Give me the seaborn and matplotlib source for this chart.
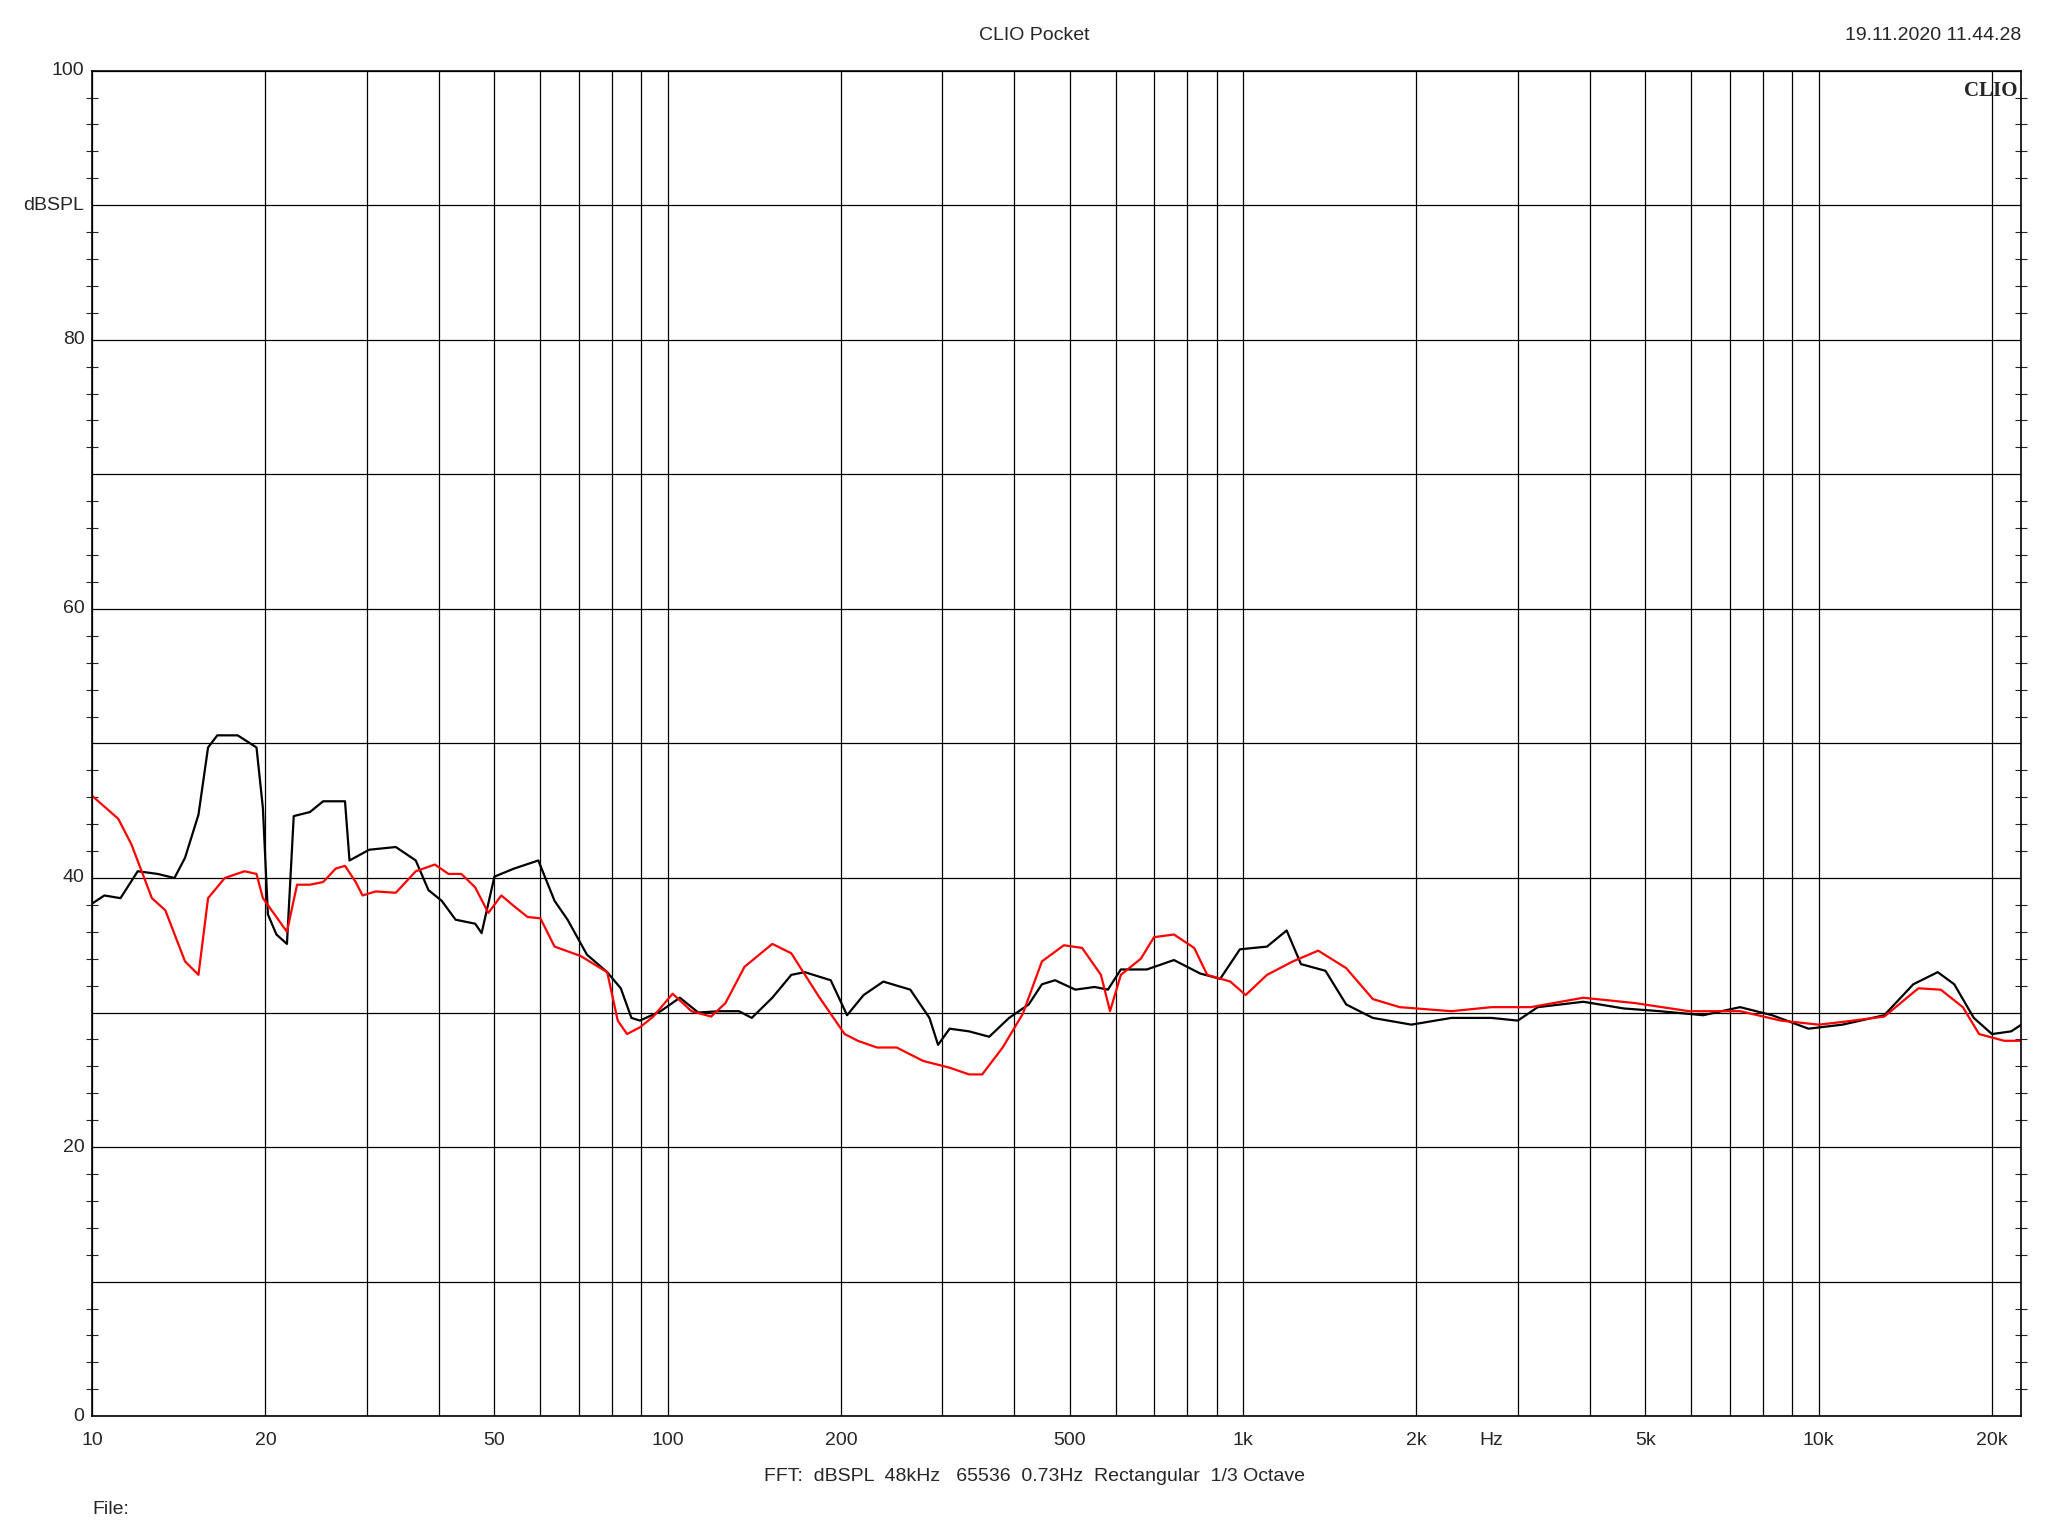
import numpy as np
import pandas as pd
import matplotlib
matplotlib.use("Agg")
import matplotlib.pyplot as plt
import seaborn as sns
from matplotlib.ticker import FixedLocator, MultipleLocator, NullFormatter

sns.set_style("white")
plt.rcParams['font.family'] = ['Liberation Sans', 'DejaVu Sans']

black_hz = [10, 10.5, 11.2, 12.0, 13.0, 13.9, 14.5, 15.3, 15.9, 16.5, 17.9, 19.3, 19.8, 20.2, 20.9, 21.8,
            22.4, 23.9, 25.2, 27.5, 28.0, 30.3, 33.7, 36.5, 38.4, 40.5, 42.8, 46.3, 47.5, 50.0, 54.1, 59.6,
            63.6, 67.0, 72.4, 78.5, 82.9, 86.5, 89.5, 97.2, 105, 113, 123, 133, 140, 152, 164, 173, 192,
            205, 219, 237, 264, 285, 295, 309, 334, 362, 392, 424, 447, 471, 511, 552, 582, 613, 680, 758,
            842, 912, 987, 1100, 1190, 1260, 1390, 1510, 1680, 1960, 2300, 2700, 3000, 3250, 3900, 4590,
            5300, 6300, 7300, 8300, 9600, 11000, 13000, 14600, 16100, 17200, 18600, 20000, 21600, 22500]
black_db = [38.1, 38.7, 38.5, 40.5, 40.3, 40.0, 41.5, 44.7, 49.7, 50.6, 50.6, 49.7, 45.2, 37.3, 35.8, 35.1,
            44.6, 44.9, 45.7, 45.7, 41.3, 42.1, 42.3, 41.3, 39.1, 38.3, 36.9, 36.6, 35.9, 40.1, 40.7, 41.3,
            38.3, 36.9, 34.3, 33.0, 31.8, 29.6, 29.4, 30.1, 31.1, 30.0, 30.1, 30.1, 29.6, 31.1, 32.8, 33.0, 32.4,
            29.8, 31.3, 32.3, 31.7, 29.6, 27.6, 28.8, 28.6, 28.2, 29.6, 30.6, 32.1, 32.4, 31.7, 31.9, 31.7, 33.2, 33.2, 33.9,
            32.9, 32.5, 34.7, 34.9, 36.1, 33.6, 33.1, 30.6, 29.6, 29.1, 29.6, 29.6, 29.4, 30.4, 30.8, 30.3,
            30.1, 29.8, 30.4, 29.8, 28.8, 29.1, 29.8, 32.1, 33.0, 32.1, 29.6, 28.4, 28.6, 29.1]

red_hz = [10, 11.1, 11.7, 12.7, 13.4, 14.5, 15.3, 15.9, 17.0, 18.4, 19.3, 19.8, 20.9, 21.8, 22.7, 23.9,
          25.2, 26.5, 27.5, 28.7, 29.5, 31.1, 33.7, 36.5, 39.4, 41.6, 43.8, 46.3, 48.8, 51.4, 54.1, 57.1,
          60.1, 63.6, 70.6, 78.5, 81.9, 85.0, 89.5, 94.4, 102, 110, 119, 126, 136, 152, 164, 183, 203,
          214, 231, 250, 278, 309, 334, 352, 382, 414, 447, 488, 525, 566, 587, 613, 664, 700, 758, 822,
          866, 950, 1010, 1100, 1220, 1350, 1510, 1680, 1870, 2300, 2700, 3160, 3900, 4800, 5950, 7300,
          8600, 10000, 11000, 13000, 14900, 16300, 17800, 19000, 21000, 22500]
red_db = [46.1, 44.4, 42.5, 38.5, 37.6, 33.8, 32.8, 38.5, 40.0, 40.5, 40.3, 38.5, 37.1, 36.0, 39.5, 39.5,
          39.7, 40.7, 40.9, 39.7, 38.7, 39.0, 38.9, 40.5, 41.0, 40.3, 40.3, 39.3, 37.4, 38.7, 37.9, 37.1,
          37.0, 34.9, 34.2, 33.0, 29.4, 28.4, 28.9, 29.7, 31.4, 30.1, 29.7, 30.7, 33.4, 35.1, 34.4, 31.2, 28.4,
          27.9, 27.4, 27.4, 26.4, 25.9, 25.4, 25.4, 27.4, 29.9, 33.8, 35.0, 34.8, 32.8, 30.1, 32.8, 34.0, 35.6, 35.8, 34.8,
          32.8, 32.3, 31.3, 32.8, 33.8, 34.6, 33.3, 31.0, 30.4, 30.1, 30.4, 30.4, 31.1, 30.7, 30.1, 30.1,
          29.4, 29.1, 29.3, 29.7, 31.8, 31.7, 30.4, 28.4, 27.9, 27.9]

grid_hz = [10, 20, 30, 40, 50, 60, 70, 80, 90, 100, 200, 300, 400, 500, 600, 700, 800, 900, 1000,
           2000, 3000, 4000, 5000, 6000, 7000, 8000, 9000, 10000, 20000]
label_hz = [10, 20, 50, 100, 200, 500, 1000, 2000, 5000, 10000, 20000]
label_txt = ["10", "20", "50", "100", "200", "500", "1k", "2k", "5k", "10k", "20k"]

fig = plt.figure(figsize=(20.48, 15.36), dpi=100)
ax = fig.add_axes([0.045, 0.078, 0.942, 0.876])

sns.lineplot(x=black_hz, y=black_db, ax=ax, color="black", linewidth=1.6, sort=False)
sns.lineplot(x=red_hz, y=red_db, ax=ax, color="#ff0000", linewidth=1.6, sort=False)

ax.set_xscale("log")
ax.set_xlim(10, 22500)
ax.set_ylim(0, 100)
ax.xaxis.set_major_locator(FixedLocator(grid_hz))
ax.xaxis.set_major_formatter(NullFormatter())
ax.xaxis.set_minor_locator(FixedLocator([]))
for f, t in zip(label_hz, label_txt):
    ax.text(f, -1.2, t, ha="center", va="top", fontsize=14)
ax.text(2700, -1.2, "Hz", ha="center", va="top", fontsize=14)
ax.tick_params(axis="x", length=0)

ax.yaxis.set_major_locator(MultipleLocator(10))
ax.yaxis.set_minor_locator(MultipleLocator(2))
ax.set_yticklabels([])
ax.tick_params(axis="y", which="both", direction="inout", length=8, right=True, left=True, width=0.8)
ax.tick_params(axis="y", which="major", length=0)
for v in [0, 20, 40, 60, 80, 100]:
    ax.text(-0.004, v, str(v), transform=ax.get_yaxis_transform(), ha="right", va="center", fontsize=14)
ax.text(-0.004, 90, "dBSPL", transform=ax.get_yaxis_transform(), ha="right", va="center", fontsize=14)

ax.grid(True, which="major", color="black", linewidth=0.9)
for s in ax.spines.values():
    s.set_color("black")
    s.set_linewidth(1.2)

fig.text(0.505, 0.977, "CLIO Pocket", ha="center", va="center", fontsize=14)
fig.text(0.987, 0.977, "19.11.2020 11.44.28", ha="right", va="center", fontsize=14)
ax.text(0.998, 0.992, "CLIO", transform=ax.transAxes, ha="right", va="top", fontsize=15,
        fontweight="bold", family=["Liberation Serif", "DejaVu Serif"])
fig.text(0.505, 0.039, "FFT:  dBSPL  48kHz   65536  0.73Hz  Rectangular  1/3 Octave",
         ha="center", va="center", fontsize=14)
fig.text(0.045, 0.017, "File:", ha="left", va="center", fontsize=14)

fig.savefig("out.png", dpi=100, facecolor="white")
